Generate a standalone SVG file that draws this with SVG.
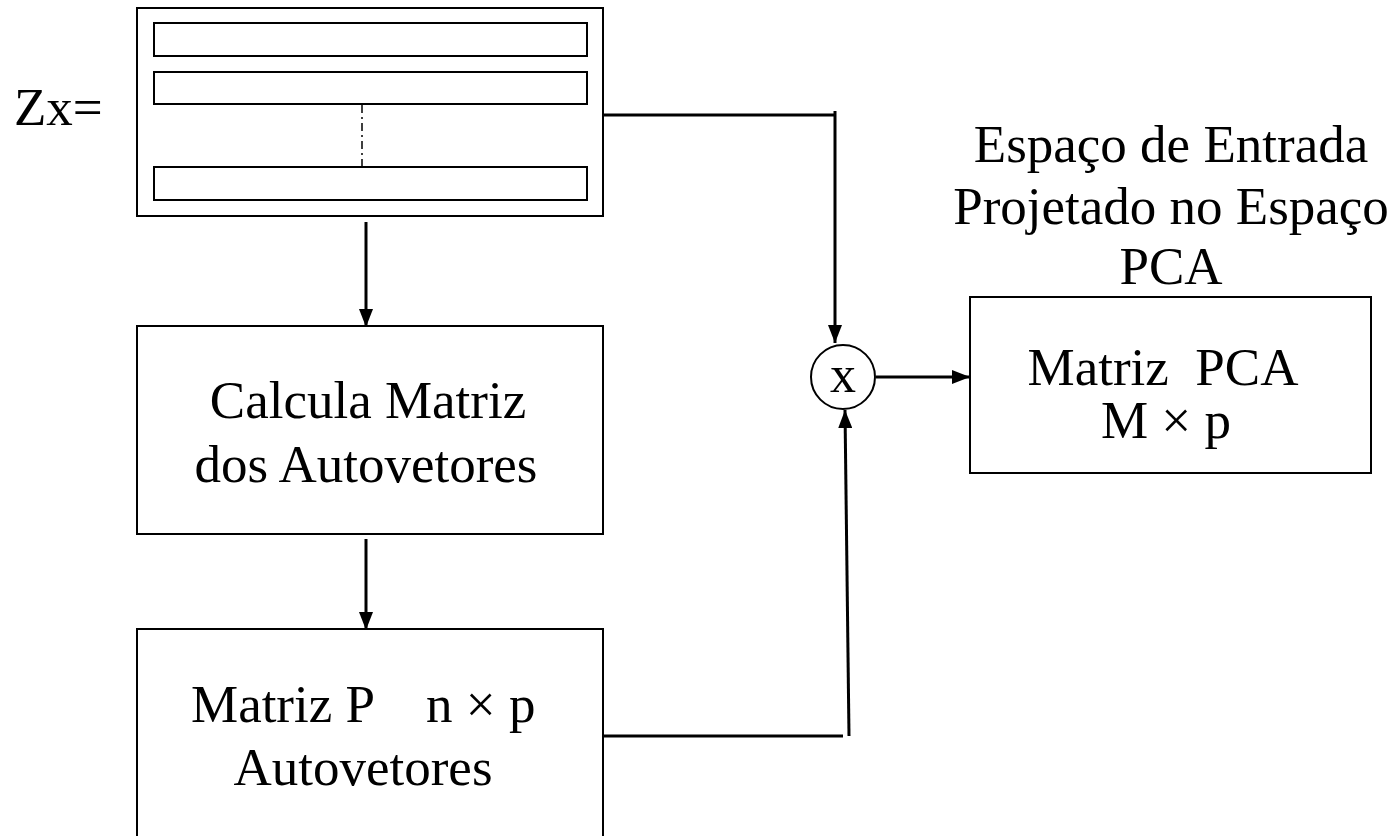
<svg xmlns="http://www.w3.org/2000/svg" width="1398" height="836" viewBox="0 0 1398 836">
<defs>
<style>
.box{fill:#fff;stroke:#000;stroke-width:2}
.ln{fill:none;stroke:#000;stroke-width:3}
.t{font-family:"Liberation Serif","Times New Roman",serif;font-size:53px;fill:#000}
.m{text-anchor:middle}
</style>
<marker id="ah" viewBox="0 0 18 14" refX="18" refY="7" markerWidth="18" markerHeight="14" orient="auto" markerUnits="userSpaceOnUse">
<path d="M0,0 L18,7 L0,14 z" fill="#000"/>
</marker>
</defs>
<rect width="1398" height="836" fill="#fff"/>
<g id="zx-label"><text class="t" x="14" y="125">Zx=</text></g>
<g id="zx-matrix">
<rect class="box" x="137" y="8" width="466" height="208"/>
<rect class="box" x="154" y="23" width="433" height="33"/>
<rect class="box" x="154" y="72" width="433" height="32"/>
<rect class="box" x="154" y="167" width="433" height="33"/>
<line x1="362" y1="105" x2="362" y2="166" stroke="#000" stroke-width="1.5" stroke-dasharray="8,4,2,4"/>
</g>
<g id="calcula">
<rect class="box" x="137" y="326" width="466" height="208"/>
<text class="t m" x="368" y="418">Calcula Matriz</text>
<text class="t m" x="366" y="482">dos Autovetores</text>
</g>
<g id="matriz-p">
<rect class="box" x="137" y="629" width="466" height="215"/>
<text class="t" x="191" y="722">Matriz P</text>
<text class="t" x="426" y="722">n × p</text>
<text class="t m" x="363" y="785">Autovetores</text>
</g>
<g id="mult">
<circle cx="843" cy="377" r="32" fill="#fff" stroke="#000" stroke-width="2"/>
<text class="t m" x="843" y="392" style="font-size:52px">x</text>
</g>
<g id="title">
<text class="t m" x="1171" y="162">Espaço de Entrada</text>
<text class="t m" x="1171" y="224">Projetado no Espaço</text>
<text class="t m" x="1171" y="284">PCA</text>
</g>
<g id="matriz-pca">
<rect class="box" x="970" y="297" width="401" height="176"/>
<text class="t m" x="1163" y="385" xml:space="preserve">Matriz  PCA</text>
<text class="t m" x="1166" y="438">M × p</text>
</g>
<g id="connectors">
<line class="ln" x1="366" y1="222" x2="366" y2="327" marker-end="url(#ah)"/>
<line class="ln" x1="366" y1="539" x2="366" y2="630" marker-end="url(#ah)"/>
<polyline class="ln" points="603,115 835,115"/>
<line class="ln" x1="835" y1="111" x2="835" y2="343" marker-end="url(#ah)"/>
<polyline class="ln" points="603,736 843,736"/>
<line class="ln" x1="849" y1="736" x2="845" y2="410" marker-end="url(#ah)"/>
<line class="ln" x1="876" y1="377" x2="970" y2="377" marker-end="url(#ah)"/>
</g>
</svg>
